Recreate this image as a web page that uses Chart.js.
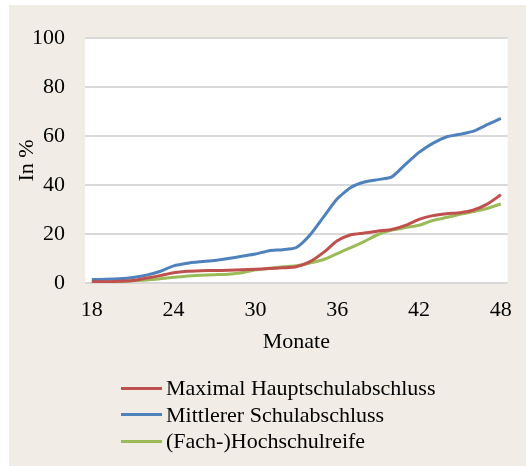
<!DOCTYPE html>
<html>
<head>
<meta charset="utf-8">
<script src="https://cdn.jsdelivr.net/npm/chart.js@4.4.1/dist/chart.umd.min.js"></script>
<style>
  html, body { margin: 0; padding: 0; background: #ffffff; }
  #wrap { position: relative; width: 526px; height: 466px; }
  #legend { position: absolute; left: 121px; top: 375px; font-family: "Liberation Serif", serif; font-size: 22px; color: #000; }
  #legend div { height: 26.5px; line-height: 26.5px; white-space: nowrap; display: flex; align-items: center; }
  #legend span.sw { display: inline-block; width: 41px; height: 3px; margin-right: 4px; }
</style>
</head>
<body>
<div id="wrap">
  <canvas id="chart" width="526" height="466"></canvas>
  <div id="legend"></div>
</div>
<script>
const months = [18,19,20,21,22,23,24,25,26,27,28,29,30,31,32,33,34,35,36,37,38,39,40,41,42,43,44,45,46,47,48];
const seriesNames = ['Maximal Hauptschulabschluss', 'Mittlerer Schulabschluss', '(Fach-)Hochschulreife'];
const hauptschule = [0.5,0.5,0.7,1.0,2.0,3.0,4.2,4.8,5.0,5.1,5.2,5.4,5.6,5.9,6.2,6.6,8.7,12.5,17.2,19.7,20.4,21.2,21.8,23.5,26.0,27.5,28.3,28.7,29.8,32.2,36.0];
const mittlere = [1.4,1.5,1.7,2.2,3.2,4.7,7.0,8.1,8.7,9.2,10.0,10.9,11.8,13.2,13.6,14.5,19.6,27.0,34.4,39.0,41.2,42.2,43.3,48.4,53.3,57.0,59.6,60.7,62.0,64.6,67.2];
const hochschule = [0.3,0.4,0.6,0.9,1.2,1.7,2.3,2.9,3.2,3.4,3.6,4.2,5.4,6.0,6.6,7.0,8.2,9.6,12.0,14.4,17.0,19.8,21.6,22.6,23.6,25.5,26.7,28.0,29.2,30.4,32.3];
const yTicks = [0,20,40,60,80,100];
const colors = ['#c0504d', '#4f81bd', '#9bbb59'];

const font = 'Liberation Serif';

// beige panel + white plot area
const backdrop = {
  id: 'backdrop',
  beforeDraw(chart) {
    const { ctx, chartArea: a } = chart;
    ctx.save();
    ctx.fillStyle = '#f1ede6';
    ctx.fillRect(9, 5, chart.width - 9, chart.height - 5);
    ctx.fillStyle = '#ffffff';
    ctx.fillRect(a.left, a.top, a.right - a.left, a.bottom - a.top);
    ctx.restore();
  }
};

const data = [hauptschule, mittlere, hochschule];

const chart = new Chart(document.getElementById('chart'), {
  type: 'line',
  data: {
    labels: months,
    datasets: data.map((d, i) => ({
      label: seriesNames[i],
      data: d,
      borderColor: colors[i],
      backgroundColor: colors[i],
      borderWidth: 3,
      pointRadius: 0,
      tension: 0.2,
      fill: false
    }))
  },
  options: {
    responsive: false,
    animation: false,
    layout: { padding: { left: 0, right: 9, top: 38, bottom: 111 } },
    plugins: { legend: { display: false }, tooltip: { enabled: false } },
    scales: {
      x: {
        offset: true,
        grid: { display: false, drawTicks: false },
        border: { display: false },
        ticks: {
          autoSkip: false,
          maxRotation: 0,
          padding: 14,
          color: '#000',
          font: { family: font, size: 22 },
          callback: function (v, i) {
            const m = months[i];
            return (m - 18) % 6 === 0 ? String(m) : '';
          }
        },
        title: { display: true, text: 'Monate', color: '#000', font: { family: font, size: 22 }, padding: { top: 0, bottom: 0 } },
        afterFit: s => { s.height = 72; }
      },
      y: {
        min: 0, max: 100,
        afterBuildTicks: s => { s.ticks = yTicks.map(v => ({ value: v })); },
        grid: { color: '#d9d9d9', lineWidth: 2, drawTicks: false },
        border: { display: false },
        ticks: { padding: 20, color: '#000', font: { family: font, size: 22 } },
        title: { display: true, text: 'In %', color: '#000', font: { family: font, size: 22 }, padding: { top: 14, bottom: 0 } },
        afterFit: s => { s.width = 85; }
      }
    }
  },
  plugins: [backdrop]
});

// legend as a vertical list, built from the datasets
const legend = document.getElementById('legend');
chart.data.datasets.forEach(ds => {
  const row = document.createElement('div');
  const sw = document.createElement('span');
  sw.className = 'sw';
  sw.style.background = ds.borderColor;
  row.appendChild(sw);
  row.appendChild(document.createTextNode(ds.label));
  legend.appendChild(row);
});
</script>
</body>
</html>
